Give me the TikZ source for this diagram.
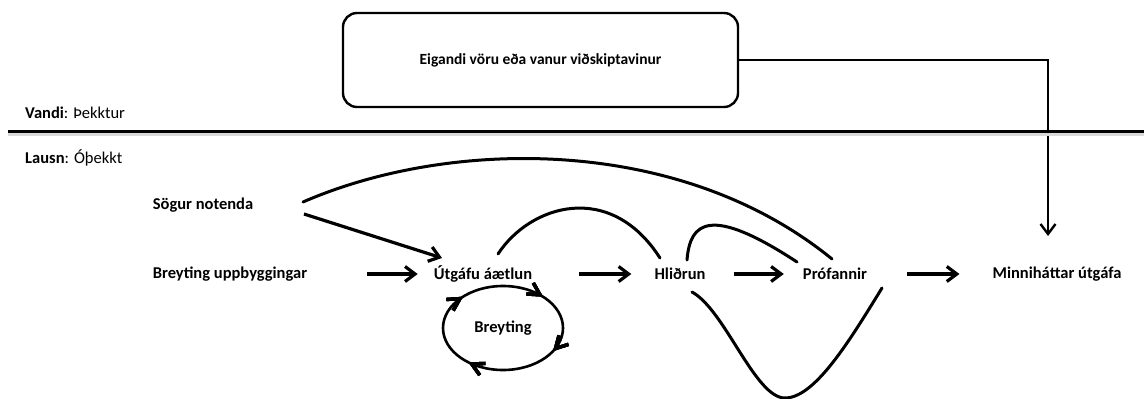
\documentclass[tikz,border=0pt]{standalone}
\usepackage{fontspec}
\setmainfont{Carlito}
\usetikzlibrary{arrows.meta,decorations.markings}

\tikzset{
  lbl/.style={font=\bfseries\fontsize{16.5}{19}\selectfont, inner sep=0pt},
  plain/.style={font=\fontsize{16.5}{19}\selectfont, inner sep=0pt, anchor=west},
  flow/.style={line width=3.2pt, -{Straight Barb[length=10pt,width=15pt,line width=3.2pt]}},
  curve/.style={line width=3pt, line cap=round},
  thin/.style={line width=2.4pt},
  cyclemark/.style={decoration={markings,
      mark=at position #1 with {\arrow{Straight Barb[length=12pt,width=13pt,line width=3.4pt]}}},
      postaction={decorate}},
}

\begin{document}
\begin{tikzpicture}[x=1pt,y=-1pt]
  \useasboundingbox (0,0) rectangle (1144,399);

  % owner box and its route down to the minor release
  \node[draw, thin, rounded corners=14pt, minimum width=395pt, minimum height=94pt,
        inner sep=0pt, font=\bfseries\fontsize{15.5}{18}\selectfont]
        (ey) at (540.5,60) {Eigandi vöru eða vanur viðskiptavinur};
  \coordinate (drop) at (1048,236);
  \draw[thin, -{Straight Barb[length=10pt,width=15pt,line width=2.4pt]}] (ey.east) -| (drop);

  % problem / solution divider
  \draw[line width=3pt, black!15] (8,134) -- (1144,134);
  \draw[line width=3pt] (8,131.5) -- (1144,131.5);
  \node[plain] (vandi) at (25,113) {\textbf{Vandi}: Þekktur};
  \node[plain] (lausn) at (25,158) {\textbf{Lausn}: Óþekkt};

  % process nodes
  \node[lbl] (sog) at (203,205) {Sögur notenda};
  \node[lbl] (bu)  at (230,274) {Breyting uppbyggingar};
  \node[lbl] (ut)  at (483,274) {Útgáfu áætlun};
  \node[lbl] (hl)  at (680,274) {Hliðrun};
  \node[lbl] (pr)  at (835,274) {Prófannir};
  \node[lbl] (mi)  at (1057,274) {Minniháttar útgáfa};
  \node[lbl] (br)  at (503,328) {Breyting};

  % main flow arrows
  \draw[flow, shorten <=60pt, shorten >=16pt] (bu) -- (ut);
  \draw[flow, shorten <=47pt, shorten >=23pt] (ut) -- (hl);
  \draw[flow, shorten <=28pt, shorten >=19pt] (hl) -- (pr);
  \draw[flow, shorten <=40pt, shorten >=33pt] (pr) -- (mi);

  % user stories feed the release plan
  \draw[flow] ([shift={(101,9)}]sog.center) -- ([shift={(-41,-16)}]ut.center);

  % feedback curves
  \draw[curve] ([shift={(100,-3)}]sog.center) .. controls (450,138) and (680,135) .. ([shift={(-3,-15)}]pr.center);
  \draw[curve] ([shift={(15,-20)}]ut.center) .. controls (530,205) and (610,180) .. ([shift={(-20,-16)}]hl.center);
  \draw[curve] ([shift={(7,-14)}]hl.center) .. controls (690,222) and (710,205) .. ([shift={(-38,-12)}]pr.center);
  \draw[curve] ([shift={(12,18)}]hl.center) .. controls (725,310) and (755,398) .. (785,398)
                 .. controls (815,398) and (850,340) .. ([shift={(47,14)}]pr.center);

  % change cycle around the release plan
  \draw[line width=2.6pt, cyclemark=0.08, cyclemark=0.36, cyclemark=0.62, cyclemark=0.88]
    (br) ellipse (60 and 42);
\end{tikzpicture}
\end{document}
